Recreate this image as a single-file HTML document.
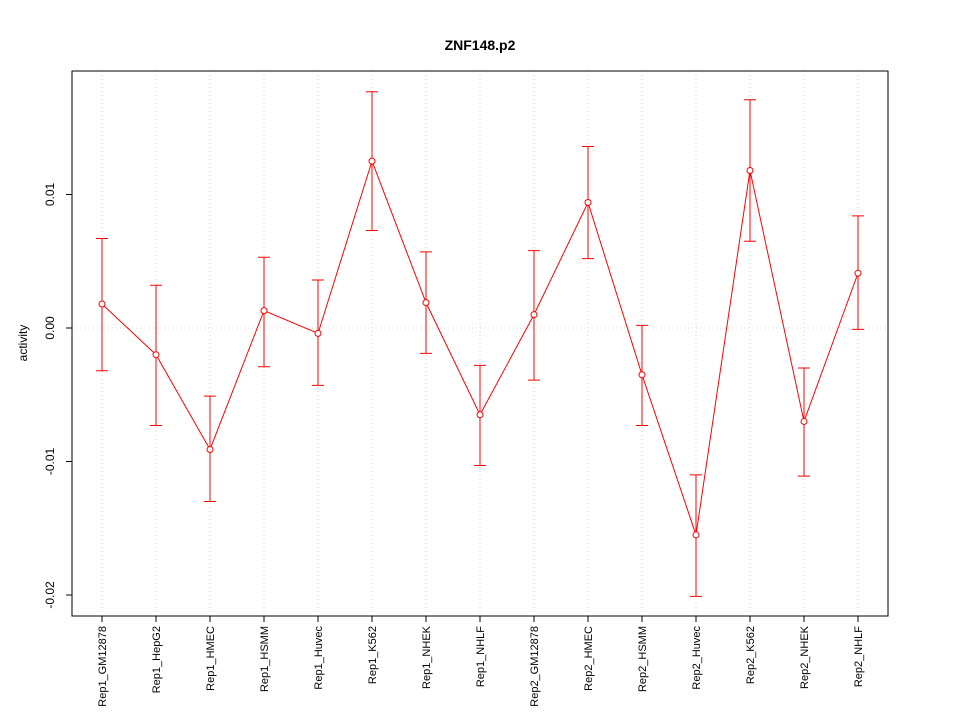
<!DOCTYPE html>
<html><head><meta charset="utf-8"><style>
body{margin:0;background:#fff;}
svg{display:block;font-family:"Liberation Sans",Arial,sans-serif;}
</style></head><body>
<svg id="chart" width="960" height="720" xmlns="http://www.w3.org/2000/svg">
<text x="480" y="50" text-anchor="middle" font-weight="bold" font-size="14">ZNF148.p2</text>
<text x="0" y="0" transform="translate(27,343) rotate(-90)" text-anchor="middle" font-size="12">activity</text>
<g id="grid"></g><g id="axes"></g><g id="marks"></g>
</svg>
<script>
const categories=["Rep1_GM12878","Rep1_HepG2","Rep1_HMEC","Rep1_HSMM","Rep1_Huvec","Rep1_K562","Rep1_NHEK","Rep1_NHLF","Rep2_GM12878","Rep2_HMEC","Rep2_HSMM","Rep2_Huvec","Rep2_K562","Rep2_NHEK","Rep2_NHLF"];
const values=[0.0018,-0.0020,-0.0091,0.0013,-0.0004,0.0125,0.0019,-0.0065,0.0010,0.0094,-0.0035,-0.0155,0.0118,-0.0070,0.0041];
const upper=[0.0067,0.0032,-0.0051,0.0053,0.0036,0.0177,0.0057,-0.0028,0.0058,0.0136,0.0002,-0.0110,0.0171,-0.0030,0.0084];
const lower=[-0.0032,-0.0073,-0.0130,-0.0029,-0.0043,0.0073,-0.0019,-0.0103,-0.0039,0.0052,-0.0073,-0.0201,0.0065,-0.0111,-0.0001];
const yTicks=[-0.02,-0.01,0,0.01];
const yTickLabels=["-0.02","-0.01","0.00","0.01"];
const NS="http://www.w3.org/2000/svg";
const L=72,R=888,T=71,B=616;
const x=i=>102+i*54;
const y=v=>328-v*13350;
function mk(parent,tag,attrs){const e=document.createElementNS(NS,tag);for(const k in attrs)e.setAttribute(k,attrs[k]);document.getElementById(parent).appendChild(e);return e;}
categories.forEach((c,i)=>{const g=mk("grid","line",{x1:x(i),x2:x(i),y1:T,y2:B,stroke:"#d3d3d3","stroke-dasharray":"1,3"});

});
const hg=mk("grid","line",{x1:L,x2:R,y1:y(0),y2:y(0),stroke:"#d3d3d3","stroke-dasharray":"1,3"});


const fr=mk("axes","rect",{x:L,y:T,width:R-L,height:B-T,fill:"none",stroke:"#000"});


yTicks.forEach((t,i)=>{const tk=mk("axes","line",{x1:L-6,x2:L,y1:y(t),y2:y(t),stroke:"#000"});


const tl=mk("axes","text",{x:0,y:0,transform:`translate(${L-18},${y(t)}) rotate(-90)`,"text-anchor":"middle","font-size":"12"});
tl.textContent=yTickLabels[i];

});
categories.forEach((c,i)=>{const tk=mk("axes","line",{x1:x(i),x2:x(i),y1:B,y2:B+6,stroke:"#000"});


const tl=mk("axes","text",{x:0,y:0,transform:`translate(${x(i)+4},${B+10}) rotate(-90)`,"text-anchor":"end","font-size":"11"});
tl.textContent=c;

});
const pl=mk("marks","polyline",{points:values.map((v,i)=>x(i)+","+y(v)).join(" "),fill:"none",stroke:"#ff0000"});


values.forEach((v,i)=>{
const eb=mk("marks","path",{d:`M${x(i)},${y(upper[i])}V${y(lower[i])}M${x(i)-6},${y(upper[i])}H${x(i)+6}M${x(i)-6},${y(lower[i])}H${x(i)+6}`,stroke:"#ff0000",fill:"none"});


const pt=mk("marks","circle",{cx:x(i),cy:y(v),r:3,fill:"#fff",stroke:"#ff0000"});

});
</script>
</body></html>
